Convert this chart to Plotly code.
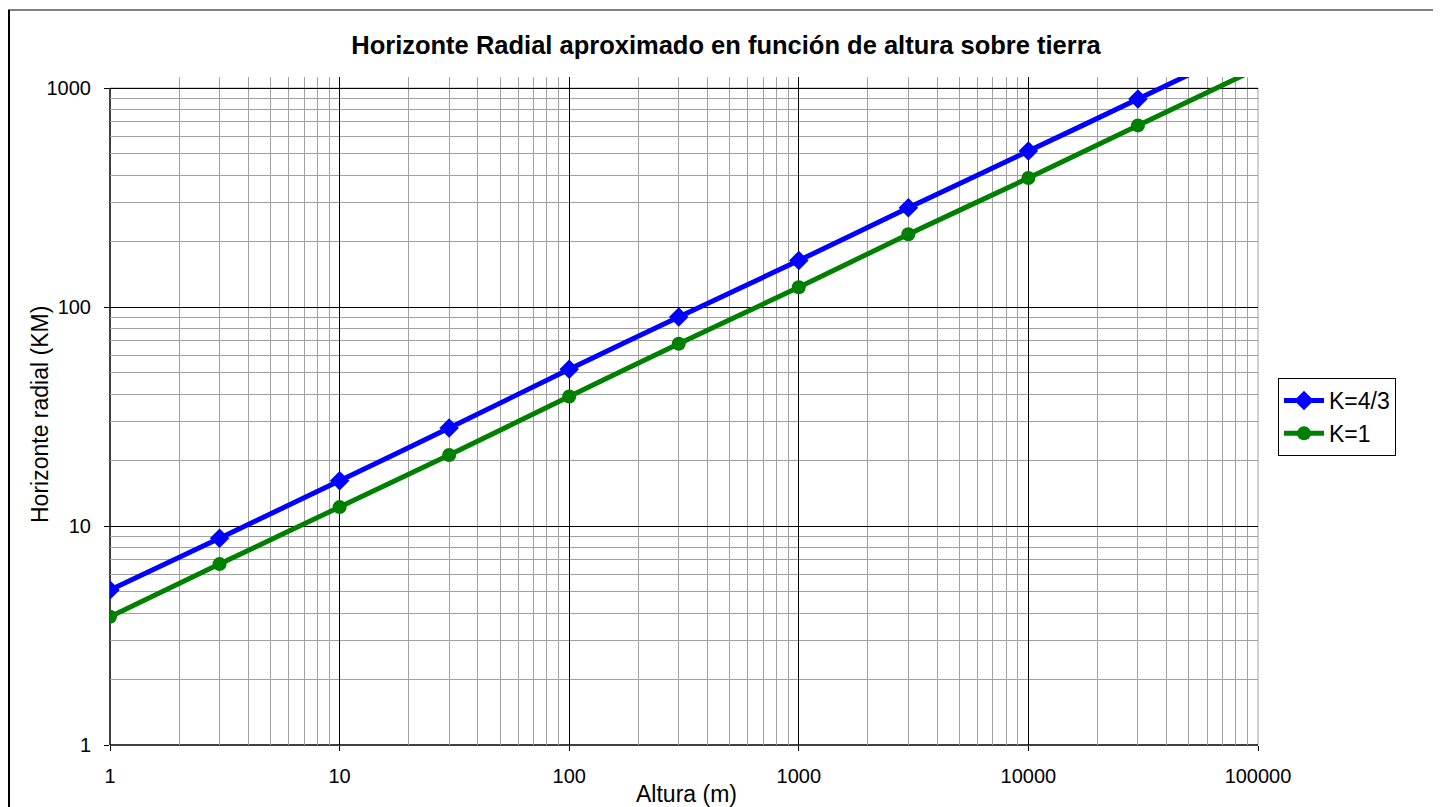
import plotly.graph_objects as go

altura = [1, 3, 10, 30, 100, 300, 1000, 3000, 10000, 30000, 100000]
k43 = [5.1, 8.8, 16.1, 28.0, 52, 90, 163, 284, 515, 890, 1630]
k1 = [3.85, 6.7, 12.2, 21.1, 39, 68, 123, 215, 388, 675, 1230]

title = "Horizonte Radial aproximado en función de altura sobre tierra"
xlabel = "Altura (m)"
ylabel = "Horizonte radial (KM)"
xticks = [1, 10, 100, 1000, 10000, 100000]
yticks = [1, 10, 100, 1000]

FONT = "Arial, Liberation Sans, sans-serif"
OFF = 8  # page body margin
W, H = 1441 - OFF, 807 - OFF
# plot area in page pixels
L, R, T, B = 110 - OFF, 1258 - OFF, 77 - OFF, 745 - OFF
Y1000 = 88 - OFF
ytop = 3 + (Y1000 - T) / ((B - Y1000) / 3)

fig = go.Figure()
fig.add_trace(go.Scatter(
    x=altura, y=k43, name="K=4/3", mode="lines+markers",
    line=dict(color="#0000ff", width=5, shape="spline", smoothing=0.6),
    marker=dict(symbol="diamond", size=15, color="#0000ff"),
    cliponaxis=True))
fig.add_trace(go.Scatter(
    x=altura, y=k1, name="K=1", mode="lines+markers",
    line=dict(color="#008000", width=5, shape="spline", smoothing=0.6),
    marker=dict(symbol="circle", size=14, color="#008000"),
    cliponaxis=True))

pw, ph = R - L, B - T
def px(xpage):
    return (xpage - OFF - L) / pw
def py(ypage):
    return (B - (ypage - OFF)) / ph

f1000 = 3 / ytop
shapes = [
    dict(type="rect", xref="paper", yref="paper", x0=-0.001, x1=1.01, y0=f1000 + 0.0008, y1=1.01,
         fillcolor="white", line=dict(width=0), layer="between"),
    dict(type="line", xref="paper", yref="paper", x0=0, x1=1, y0=f1000, y1=f1000,
         line=dict(color="#a0a0a0", width=1), layer="between"),
    dict(type="line", xref="paper", yref="paper", x0=1, x1=1, y0=0, y1=f1000,
         line=dict(color="#a0a0a0", width=1), layer="between"),
    dict(type="line", xref="paper", yref="paper", x0=0, x1=0, y0=0, y1=f1000,
         line=dict(color="black", width=1.5), layer="between"),
    dict(type="line", xref="paper", yref="paper", x0=0, x1=1, y0=0, y1=0,
         line=dict(color="black", width=1.5), layer="between"),
    dict(type="line", xref="paper", yref="paper", x0=px(8), x1=px(1434), y0=py(10), y1=py(10),
         line=dict(color="#808080", width=2)),
    dict(type="line", xref="paper", yref="paper", x0=px(9), x1=px(9), y0=py(10), y1=py(830),
         line=dict(color="black", width=2)),
    dict(type="line", xref="paper", yref="paper", x0=px(1434), x1=px(1434), y0=py(10), y1=py(830),
         line=dict(color="black", width=2)),
]

fig.update_layout(
    width=W, height=H,
    margin=dict(l=L, r=W - R, t=T, b=H - B),
    paper_bgcolor="white", plot_bgcolor="white",
    font=dict(family=FONT, color="black", size=20),
    title=dict(text="<b>" + title + "</b>", x=(726 - OFF) / W, xref="container", xanchor="center",
               y=1 - (45 - OFF) / H, yref="container", yanchor="middle",
               font=dict(size=25.5, family=FONT, color="black")),
    showlegend=True,
    legend=dict(x=px(1278), y=py(378), xanchor="left", yanchor="top",
                bgcolor="white", bordercolor="black", borderwidth=1,
                font=dict(size=23, family=FONT), itemwidth=40,
                tracegroupgap=0),
    shapes=shapes,
    annotations=[
        dict(text=xlabel, xref="paper", yref="paper", x=px(686), y=py(794),
             showarrow=False, font=dict(size=23, family=FONT), xanchor="center", yanchor="middle"),
        dict(text=ylabel, xref="paper", yref="paper", x=px(40), y=py(415), textangle=-90,
             showarrow=False, font=dict(size=23, family=FONT), xanchor="center", yanchor="middle"),
    ],
)
fig.update_xaxes(type="log", range=[0, 5], tickvals=xticks, ticktext=[str(v) for v in xticks],
                 showgrid=True, gridcolor="black", gridwidth=1,
                 minor=dict(tickvals=[m * 10 ** e for e in range(5) for m in range(2, 10)],
                            showgrid=True, gridcolor="#a0a0a0", gridwidth=1),
                 ticks="outside", ticklen=5, tickcolor="black", showline=False, zeroline=False,
                 ticklabelstandoff=8,
                 tickfont=dict(size=20, family=FONT))
fig.update_yaxes(type="log", range=[0, ytop], tickvals=yticks, ticktext=[str(v) for v in yticks],
                 showgrid=True, gridcolor="black", gridwidth=1,
                 minor=dict(tickvals=[m * 10 ** e for e in range(3) for m in range(2, 10)],
                            showgrid=True, gridcolor="#a0a0a0", gridwidth=1),
                 ticks="outside", ticklen=5, tickcolor="black", showline=False, zeroline=False,
                 ticklabelstandoff=9,
                 tickfont=dict(size=20, family=FONT))

fig.write_html("out.html")
